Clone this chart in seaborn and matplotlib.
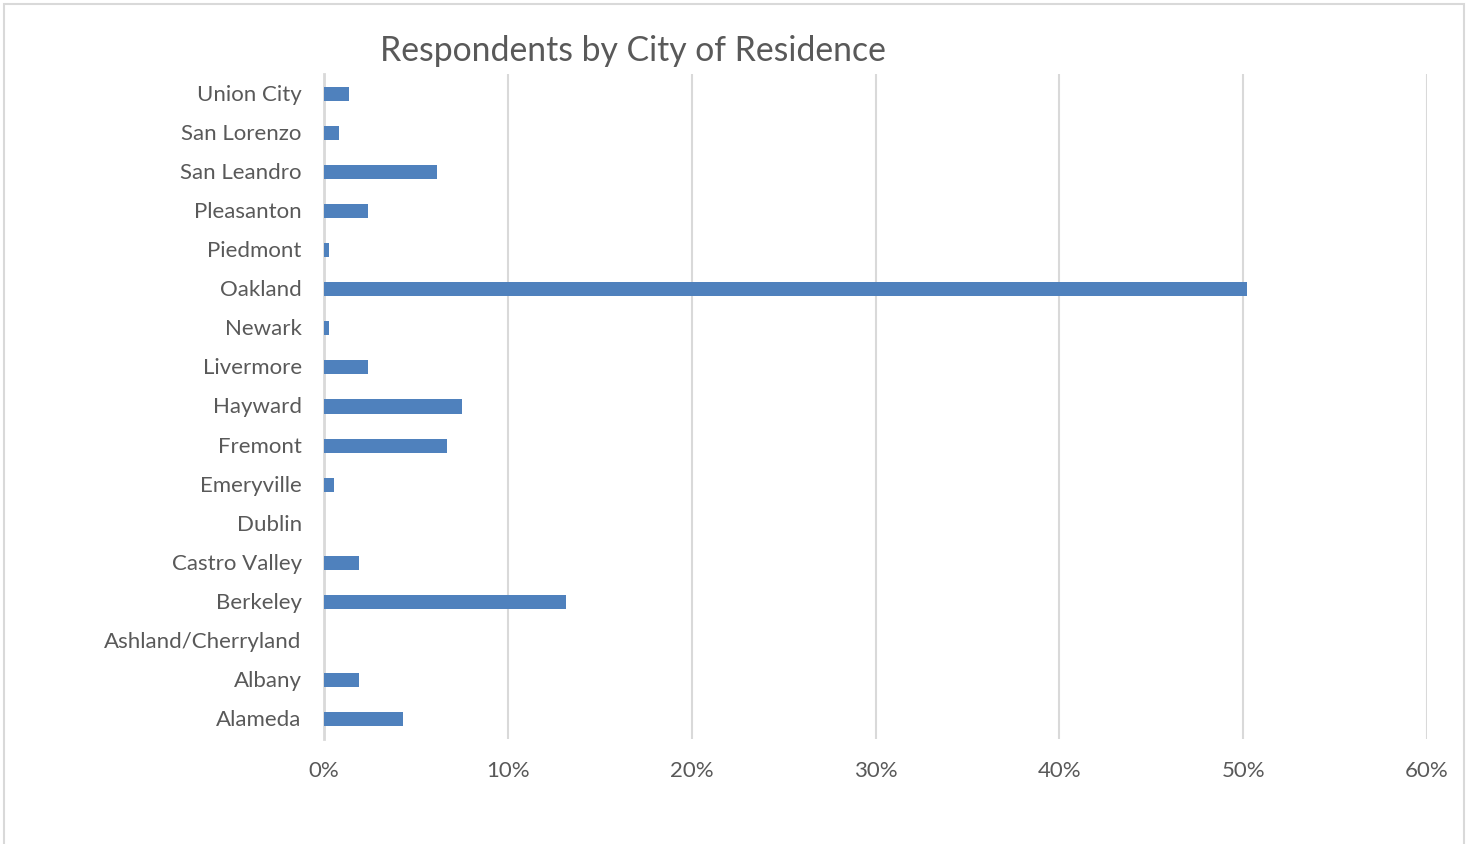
import matplotlib
matplotlib.use("Agg")
import matplotlib.pyplot as plt
from matplotlib.patches import Rectangle
from matplotlib.ticker import FuncFormatter, MultipleLocator
from matplotlib.transforms import ScaledTranslation
import seaborn as sns
import pandas as pd

cities = ["Union City", "San Lorenzo", "San Leandro", "Pleasanton", "Piedmont",
          "Oakland", "Newark", "Livermore", "Hayward", "Fremont", "Emeryville",
          "Dublin", "Castro Valley", "Berkeley", "Ashland/Cherryland", "Albany",
          "Alameda"]
share_pct = [1.34, 0.80, 6.17, 2.41, 0.27, 50.2, 0.27, 2.41, 7.51, 6.70, 0.54,
             0.0, 1.88, 13.14, 0.0, 1.88, 4.29]

df = pd.DataFrame({"city": cities, "share": share_pct})

sns.set_theme(style="white")
plt.rcParams["font.family"] = ["Lato", "DejaVu Sans"]

text_gray = "#595959"
grid_gray = "#d9d9d9"
bar_blue = "#4f81bd"

fig = plt.figure(figsize=(14.71, 8.45), dpi=100)
ax = fig.add_axes([324 / 1471, 1 - 740 / 845, (1427 - 324) / 1471, (740 - 75) / 845])

sns.barplot(data=df, x="share", y="city", order=cities, orient="h",
            color=bar_blue, width=0.36, saturation=1, ax=ax, linewidth=0)

ax.set_xlim(0, 60)
ax.set_ylim(16.5, -0.5)
ax.xaxis.set_major_locator(MultipleLocator(10))
ax.xaxis.set_major_formatter(FuncFormatter(lambda v, _: f"{v:.0f}%"))
ax.grid(axis="x", color=grid_gray, linewidth=1.5)
ax.set_axisbelow(True)
for side in ("top", "right", "bottom"):
    ax.spines[side].set_visible(False)
ax.spines["left"].set_color(grid_gray)
ax.spines["left"].set_linewidth(2)
ax.spines["left"].set_zorder(0.5)
ax.tick_params(axis="both", length=0, colors=text_gray, labelsize=16)
ax.tick_params(axis="y", pad=16)
ax.tick_params(axis="x", pad=15)

# nudge category labels up slightly so they sit centred on the bars
lift = ScaledTranslation(0, 2 / 100, fig.dpi_scale_trans)
for lbl in ax.get_yticklabels():
    lbl.set_transform(lbl.get_transform() + lift)

ax.set_xlabel("")
ax.set_ylabel("")

fig.text(633 / 1471, 1 - 51 / 845, "Respondents by City of Residence",
         ha="center", va="center", fontsize=24.3, color=text_gray)

fig.patches.append(Rectangle((4 / 1471, -0.05), (1464 - 4) / 1471, 1 - 5 / 845 + 0.05,
                             transform=fig.transFigure, fill=False,
                             edgecolor="#d9d9d9", linewidth=1.5))

fig.savefig("out.png", dpi=100)
